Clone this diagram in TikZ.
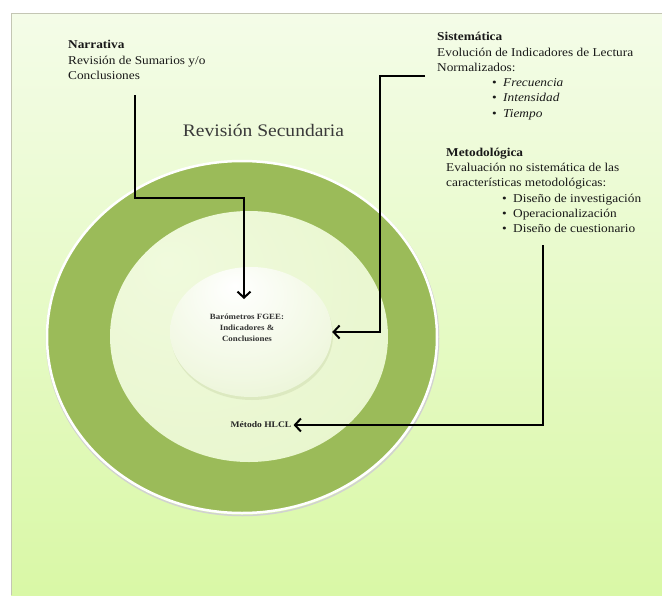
\documentclass[tikz,border=0pt]{standalone}
\usepackage{fontspec}
\setmainfont{Liberation Serif}[FakeStretch=1.11]
\usetikzlibrary{arrows.meta,calc,shapes.geometric}

\definecolor{bgtop}{HTML}{F4FCE8}
\definecolor{bgbot}{HTML}{D9F8A6}
\definecolor{ringgreen}{HTML}{9BBB59}
\definecolor{framegray}{HTML}{C4C6B4}
\definecolor{headgray}{HTML}{3A3A3A}
\definecolor{discA}{HTML}{F0FADD}
\definecolor{discB}{HTML}{E8F6CD}
\definecolor{discC}{HTML}{DCEFB8}
\definecolor{sphA}{HTML}{FFFFFF}
\definecolor{sphB}{HTML}{F1F8E2}
\definecolor{sphC}{HTML}{DCECBC}
\definecolor{sphD}{HTML}{C2D98E}

\pgfdeclareradialshading{discshade}{\pgfpoint{-15bp}{15bp}}{%
  color(0bp)=(discA); color(40bp)=(discB); color(75bp)=(discC)}
\pgfdeclareradialshading{sphshade}{\pgfpoint{-5bp}{18bp}}{%
  color(0bp)=(sphA); color(28bp)=(sphB); color(58bp)=(sphC); color(68bp)=(sphD)}

% bullet placed to the left of an indented list entry
\newcommand\bulletat[1]{\hspace*{#1pt}\llap{\textbullet\hspace{6.3pt}}}

\begin{document}
\begin{tikzpicture}[x=1pt,y=-1pt,
  conn/.style={line width=2pt, -{Straight Barb[length=6pt,width=13pt]}},
  blocktext/.style={anchor=north west, inner sep=0pt, align=left,
    font=\fontsize{12}{15.3}\selectfont, text=black!90},
  centertext/.style={align=center, inner sep=0pt,
    font=\fontsize{8}{10.8}\selectfont\bfseries, text=black!80},
  heading/.style={anchor=base, inner sep=0pt,
    font=\fontsize{17.6}{20}\selectfont, text=headgray}]

  \useasboundingbox (0,0) rectangle (662,595);

  % page background and frame
  \fill[white] (0,0) rectangle (662,595);
  \shade[top color=bgtop, bottom color=bgbot] (11,13) rectangle (662,595);
  \draw[framegray, line width=1pt] (11,595) -- (11,13) -- (662,13);

  % outer ring
  \draw[black!18, line width=1.5pt] (242.5,338.5) ellipse [x radius=196pt, y radius=177pt];
  \fill[ringgreen] (242,337) ellipse [x radius=195pt, y radius=176pt];
  \draw[white, line width=2.5pt] (242,337) ellipse [x radius=195pt, y radius=176pt];

  % inner disc
  \shade[shading=discshade] (249,336.5) ellipse [x radius=139pt, y radius=125.5pt];

  % central sphere
  \fill[ringgreen!45, opacity=0.6] (252,335) ellipse [x radius=81pt, y radius=65pt];
  \node[ellipse, minimum width=162pt, minimum height=130pt, inner sep=0pt,
        shade, shading=sphshade] (sph) at (251,332) {};

  % labels
  \node[heading] (sec) at (263.5,136) {Revisión Secundaria};

  \node[blocktext] (narr) at (68,37.8)
    {\strut\textbf{Narrativa}\\Revisión de Sumarios y/o\\Conclusiones};

  \node[blocktext] (sist) at (437,29.8)
    {\strut\textbf{Sistemática}\\
     Evolución de Indicadores de Lectura\\
     Normalizados:\\
     \bulletat{66}\textit{Frecuencia}\\
     \bulletat{66}\textit{Intensidad}\\
     \bulletat{66}\textit{Tiempo}};

  \node[blocktext] (meto) at (446,145.3)
    {\strut\textbf{Metodológica}\\
     Evaluación no sistemática de las\\
     características metodológicas:\\
     \bulletat{67}Diseño de investigación\\
     \bulletat{67}Operacionalización\\
     \bulletat{67}Diseño de cuestionario};

  \node[centertext] (bar) at (247,328)
    {Barómetros FGEE:\\Indicadores \&\\Conclusiones};

  \node[inner sep=2pt, font=\fontsize{8.6}{10}\selectfont\bfseries, text=black!85]
    (hlcl) at (261,425) {Método HLCL};

  % connectors
  \coordinate (nStart) at (135,95);
  \coordinate (nBend) at (244,198);
  \coordinate (nTip) at (244,299);
  \draw[conn] (nStart) |- (nBend) -- (nTip);

  \coordinate (sStart) at (425,76);
  \coordinate (sBend) at ($(sph.east)+(48,0)$);
  \draw[conn] (sStart) -| (sBend) -- (sph.east);

  \coordinate (mStart) at (543,245);
  \draw[conn] (mStart) |- (hlcl.east);
\end{tikzpicture}
\end{document}
